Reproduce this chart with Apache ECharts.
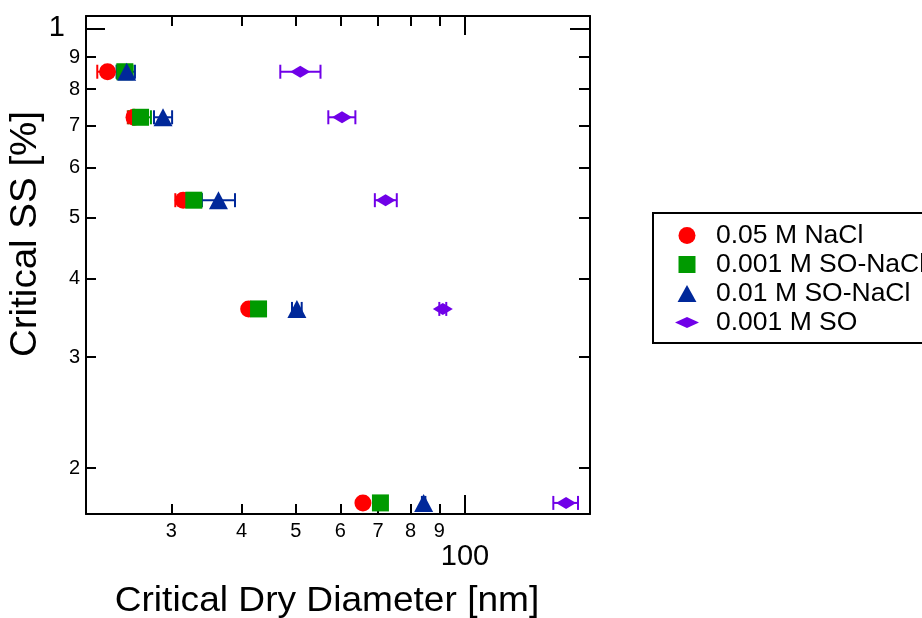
<!DOCTYPE html>
<html><head><meta charset="utf-8">
<script src="https://cdn.jsdelivr.net/npm/echarts@6/dist/echarts.min.js"></script>
<style>html,body{margin:0;padding:0;background:#fff}#c{width:922px;height:618px}</style>
</head><body><div id="c"></div>
<script>
// ---------- data ----------
const seriesNames = ['0.05 M NaCl', '0.001 M SO-NaCl', '0.01 M SO-NaCl', '0.001 M SO'];
const criticalSS = [0.853, 0.722, 0.533, 0.358, 0.176];           // %

const naclDiam   = [23.1, 25.75, 31.5, 41.2, 65.8];                 // nm
const naclLow    = [22.15, 25.1, 30.5, 40.6, 65.0];
const naclHigh   = [24.1, 26.4, 32.5, 41.8, 66.6];

const soNacl001Diam = [24.8, 26.45, 32.9, 42.9, 70.7];
const soNacl001Low  = [24.0, 25.2, 31.9, 42.3, 70.0];
const soNacl001High = [25.6, 27.6, 34.0, 43.5, 71.4];

const soNacl01Diam = [24.99, 29.0, 36.4, 50.2, 84.4];
const soNacl01Low  = [23.98, 27.95, 33.98, 49.2, 83.8];
const soNacl01High = [25.85, 30.1, 38.95, 51.2, 85.0];

const so001Diam = [50.9, 60.4, 72.2, 91.3, 151.3];
const so001Low  = [46.9, 57.1, 69.1, 90.0, 143.6];
const so001High = [55.3, 63.8, 75.6, 92.6, 158.9];

const xTickMinor = [30, 40, 50, 60, 70, 80, 90];
const xTickMajor = [100];
const yTickMinor = [0.2, 0.3, 0.4, 0.5, 0.6, 0.7, 0.8, 0.9];
const yTickMajor = [1];
const xRange = [21.15, 166.9];
const yRange = [0.169, 1.046];

// ---------- build ----------
const lg = v => Math.log10(v);
const FONT = 'Liberation Sans, Arial, Helvetica, sans-serif';
const colors = ['#ff0000', '#009a00', '#00289a', '#7000e8'];
const symbols = ['circle', 'rect', 'triangle', 'diamond'];
const symbolSizes = [17, 17, [19, 18], [20, 12]];
const groups = [
  [naclDiam, naclLow, naclHigh],
  [soNacl001Diam, soNacl001Low, soNacl001High],
  [soNacl01Diam, soNacl01Low, soNacl01High],
  [so001Diam, so001Low, so001High]
];

function errRender(color) {
  return function (params, api) {
    const y = api.value(2);
    const p1 = api.coord([api.value(0), y]);
    const p2 = api.coord([api.value(1), y]);
    const h = 7;
    const st = { stroke: color, lineWidth: 2 };
    return { type: 'group', children: [
      { type: 'line', shape: { x1: p1[0], y1: p1[1], x2: p2[0], y2: p2[1] }, style: st },
      { type: 'line', shape: { x1: p1[0], y1: p1[1] - h, x2: p1[0], y2: p1[1] + h }, style: st },
      { type: 'line', shape: { x1: p2[0], y1: p2[1] - h, x2: p2[0], y2: p2[1] + h }, style: st }
    ]};
  };
}

const series = [];
groups.forEach((g, k) => {
  series.push({
    type: 'custom', name: 'err' + k, xAxisIndex: 0, yAxisIndex: 0,
    renderItem: errRender(colors[k]),
    encode: { x: [0, 1], y: 2 },
    data: g[0].map((d, i) => [lg(g[1][i]), lg(g[2][i]), lg(criticalSS[i])]),
    silent: true
  });
  series.push({
    type: 'scatter', name: seriesNames[k], xAxisIndex: 0, yAxisIndex: 0,
    symbol: symbols[k], symbolSize: symbolSizes[k],
    itemStyle: { color: colors[k], opacity: 1 },
    data: g[0].map((d, i) => [lg(d), lg(criticalSS[i])])
  });
});

const black = { color: '#000', width: 2 };
function xAx(pos, ticks, len, showLine, label) {
  return {
    type: 'value', position: pos, gridIndex: 0,
    min: lg(xRange[0]), max: lg(xRange[1]),
    axisLine: { show: showLine, onZero: false, lineStyle: black },
    axisTick: { show: true, inside: true, length: len, customValues: ticks.map(lg), lineStyle: black },
    axisLabel: label ? Object.assign({ show: true, customValues: ticks.map(lg), color: '#000', fontFamily: FONT }, label) : { show: false },
    splitLine: { show: false }, minorTick: { show: false }
  };
}
function yAx(pos, ticks, len, showLine, label) {
  return {
    type: 'value', position: pos, gridIndex: 0,
    min: lg(yRange[0]), max: lg(yRange[1]),
    axisLine: { show: showLine, onZero: false, lineStyle: black },
    axisTick: { show: true, inside: true, length: len, customValues: ticks.map(lg), lineStyle: black },
    axisLabel: label ? Object.assign({ show: true, customValues: ticks.map(lg), color: '#000', fontFamily: FONT }, label) : { show: false },
    splitLine: { show: false }, minorTick: { show: false }
  };
}

const option = {
  animation: false,
  backgroundColor: '#fff',
  grid: { left: 86, top: 16, width: 504, height: 498, containLabel: false, outerBoundsMode: 'none', show: false },
  xAxis: [
    xAx('bottom', xTickMinor, 10, true, { fontSize: 20, margin: 7, formatter: v => String(Math.round(Math.pow(10, v) / 10)) }),
    xAx('bottom', xTickMajor, 19, false, { fontSize: 29, margin: 28, formatter: v => String(Math.round(Math.pow(10, v))) }),
    xAx('top', xTickMinor, 10, true, null),
    xAx('top', xTickMajor, 19, false, null)
  ],
  yAxis: [
    yAx('left', yTickMinor, 10, true, { fontSize: 20, margin: 6, formatter: v => String(Math.round(Math.pow(10, v) * 10)) }),
    yAx('left', yTickMajor, 19, false, { fontSize: 29, margin: 21, formatter: v => String(Math.round(Math.pow(10, v))) }),
    yAx('right', yTickMinor, 11, true, null),
    yAx('right', yTickMajor, 20, false, null)
  ],
  legend: {
    orient: 'vertical', left: 653, top: 213,
    data: [
      { name: seriesNames[0], icon: 'circle' },
      { name: seriesNames[1], icon: 'path://M0,0L10,0L10,10L0,10Z' },
      { name: seriesNames[2], icon: 'path://M5,0L10,9L0,9Z' },
      { name: seriesNames[3], icon: 'path://M0,0M24,17M0,8.5L12,3L24,8.5L12,14Z' }
    ],
    itemWidth: 48, itemHeight: 17, itemGap: 2,
    padding: [9, 20, 7, 22],
    borderColor: '#000', borderWidth: 2, backgroundColor: '#fff',
    symbolKeepAspect: true, selectedMode: false,
    textStyle: { fontSize: 26.5, color: '#000', fontFamily: FONT }
  },
  graphic: [
    { type: 'text', x: 327, y: 601, scaleX: 1.06, silent: true,
      style: { text: 'Critical Dry Diameter [nm]', fill: '#000', font: '35px ' + FONT,
               align: 'center', verticalAlign: 'middle', textAlign: 'center', textVerticalAlign: 'middle' } },
    { type: 'text', x: 26, y: 234, rotation: Math.PI / 2, scaleX: 1.07, silent: true,
      style: { text: 'Critical SS [%]', fill: '#000', font: '36px ' + FONT,
               align: 'center', verticalAlign: 'middle', textAlign: 'center', textVerticalAlign: 'middle' } }
  ],
  series: series
};

const chart = echarts.init(document.getElementById('c'), null, { renderer: 'canvas' });
chart.setOption(option);
</script>
</body></html>
